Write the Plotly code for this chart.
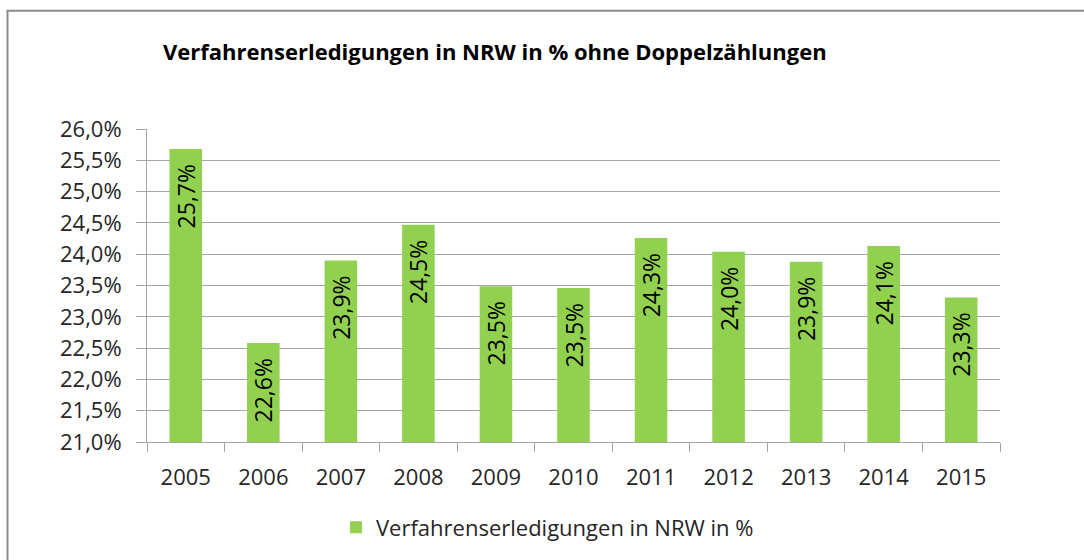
import plotly.graph_objects as go

years = ["2005", "2006", "2007", "2008", "2009", "2010", "2011", "2012", "2013", "2014", "2015"]
values = [25.68, 22.58, 23.90, 24.47, 23.49, 23.46, 24.26, 24.04, 23.88, 24.13, 23.31]
series_name = "Verfahrenserledigungen in NRW in %"
title_text = "Verfahrenserledigungen in NRW in % ohne Doppelzählungen"
y_ticks = [21.0, 21.5, 22.0, 22.5, 23.0, 23.5, 24.0, 24.5, 25.0, 25.5, 26.0]
y_tick_labels = ["21,0%", "21,5%", "22,0%", "22,5%", "23,0%", "23,5%", "24,0%", "24,5%", "25,0%", "25,5%", "26,0%"]

FONT = "Open Sans, Liberation Sans, sans-serif"
GREEN = "#92D050"
GRID = "#A6A6A6"

fig = go.Figure()
fig.add_trace(go.Bar(
    x=years, y=values, name=series_name,
    marker=dict(color=GREEN, line=dict(width=0)),
    texttemplate="%{y:.1f}%\u00a0\u00a0", textposition="inside", insidetextanchor="end",
    textangle=-90, constraintext="none",
    textfont=dict(family=FONT, size=23, color="#000000"),
    cliponaxis=False, showlegend=True, hoverinfo="skip",
))

L, R, T, B = 147, 84, 129, 116
W, H = 1084, 560
pw, ph = W - L - R, H - T - B

fig.update_layout(
    width=W, height=H,
    margin=dict(l=L, r=R, t=T, b=B),
    paper_bgcolor="white", plot_bgcolor="white",
    separators=",.",
    bargap=0.58,
    font=dict(family=FONT, color="#262626"),
    title=dict(text="<b>" + title_text + "</b>", x=163 / W, xanchor="left",
               y=1 - 52 / H, yanchor="middle",
               font=dict(family=FONT, size=22, color="#000000")),
    xaxis=dict(type="category", showgrid=False, showline=True, linecolor=GRID, linewidth=1,
               ticks="outside", tickson="boundaries", ticklen=9, tickcolor=GRID,
               ticklabelstandoff=16,
               tickfont=dict(family=FONT, size=22, color="#262626")),
    yaxis=dict(range=[21.0, 26.0], tickmode="array", tickvals=y_ticks, ticktext=y_tick_labels,
               showgrid=True, gridcolor=GRID, gridwidth=1,
               showline=True, linecolor=GRID, linewidth=1,
               ticks="outside", ticklen=10, tickcolor=GRID,
               ticklabelstandoff=10,
               tickfont=dict(family=FONT, size=22, color="#262626"), zeroline=False),
    legend=dict(orientation="h", x=0.5 - 26 / pw, xanchor="center", y=-(530 - (H - B)) / ph,
                yanchor="middle", font=dict(family=FONT, size=22, color="#262626"),
                bgcolor="rgba(0,0,0,0)"),
    shapes=[dict(type="rect", xref="paper", yref="paper",
                 x0=(7.5 - L) / pw, x1=(1120 - L) / pw,
                 y0=(H - B - 600) / ph, y1=(H - B - 10) / ph,
                 line=dict(color="#8C8C8C", width=2), fillcolor="rgba(0,0,0,0)", layer="below")],
)

fig.write_html("out.html", config={"displayModeBar": False},
               post_script="document.body.style.margin='0';document.body.style.overflow='hidden';")
